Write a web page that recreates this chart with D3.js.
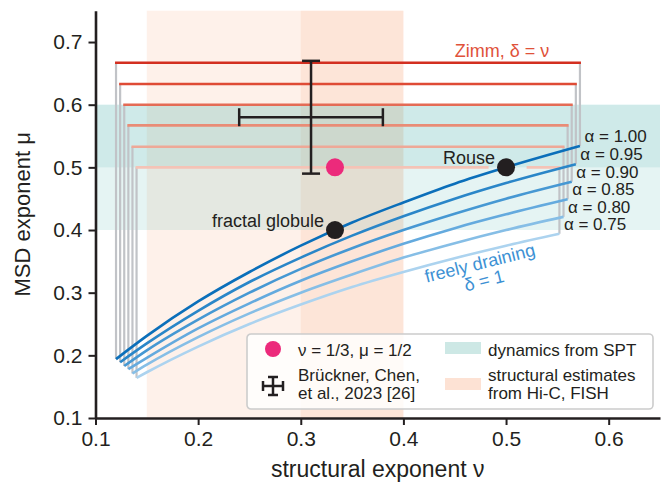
<!DOCTYPE html>
<html>
<head>
<meta charset="UTF-8">
<title>MSD exponent vs structural exponent</title>
<script src="https://d3js.org/d3.v7.min.js"></script>
<style>
    body { margin: 0; background: #fff; }
    text { font-family: "Liberation Sans", Arial, sans-serif; fill: #231f20; }
    .axis path, .axis line { stroke: #231f20; }
    .axis text { font-size: 21px; }
    .note { font-size: 18px; }
    .small { font-size: 17px; }
</style>
</head>
<body>
<script>
// alpha family
const alphas = [1.00, 0.95, 0.90, 0.85, 0.80, 0.75];
const alphaLabels = ["α = 1.00", "α = 0.95", "α = 0.90", "α = 0.85", "α = 0.80", "α = 0.75"];
const nuStart = [0.120, 0.124, 0.128, 0.132, 0.136, 0.140];
const nuEnd = [0.572, 0.568, 0.564, 0.560, 0.556, 0.552];

// Zimm (delta = nu) levels
const zimmMu = [0.667, 0.633, 0.600, 0.567, 0.533, 0.500];
const zimmColors = ["#d32f20", "#df4b35", "#e46b55", "#e98c76", "#eea897", "#f4c3b6"];

const nuGrid = [0.15, 0.20, 0.25, 0.30, 0.35, 0.40, 0.45, 0.50];
const muFreeStart = [0.194, 0.189, 0.183, 0.178, 0.171, 0.164];
const muFreeEnd = [0.534, 0.505, 0.477, 0.449, 0.421, 0.394];
const muFree100 = [0.231, 0.286, 0.333, 0.375, 0.412, 0.444, 0.474, 0.500];
const muFree095 = [0.219, 0.271, 0.317, 0.356, 0.391, 0.422, 0.450, 0.475];
const muFree090 = [0.208, 0.257, 0.300, 0.338, 0.371, 0.400, 0.426, 0.450];
const muFree085 = [0.196, 0.243, 0.283, 0.319, 0.350, 0.378, 0.403, 0.425];
const muFree080 = [0.185, 0.229, 0.267, 0.300, 0.329, 0.356, 0.379, 0.400];
const muFree075 = [0.173, 0.214, 0.250, 0.281, 0.309, 0.333, 0.355, 0.375];
const muFree = [muFree100, muFree095, muFree090, muFree085, muFree080, muFree075];
const freeColors = ["#0b6fba", "#2a86c8", "#4698d3", "#64aade", "#86bee6", "#acd3ef"];

// shaded ranges
const structRanges = [[0.15, 0.40], [0.30, 0.40]];
const dynRanges = [[0.40, 0.60], [0.50, 0.60]];

// points
const markedPoints = [{nu: 0.5, mu: 0.5, label: "Rouse"}, {nu: 1 / 3, mu: 0.4, label: "fractal globule"}];
const theoryPoint = {nu: 1 / 3, mu: 0.5};
const errCenter = [0.31, 0.58];
const errNu = 0.07;
const errMu = 0.09;
const rouseGap = [0.482, 0.521];

const xTicks = [0.1, 0.2, 0.3, 0.4, 0.5, 0.6];
const yTicks = [0.1, 0.2, 0.3, 0.4, 0.5, 0.6, 0.7];

const width = 672;
const height = 483;
const marginLeft = 95.5;
const marginRight = 12;
const marginTop = 10.7;
const marginBottom = 65;

const svg = d3.select('body').append('svg')
    .attr('width', width)
    .attr('height', height);

const x = d3.scaleLinear().domain([0.1, 0.65]).range([marginLeft, width - marginRight]);
const y = d3.scaleLinear().domain([0.1, 0.75]).range([height - marginBottom, marginTop]);

// background bands
svg.selectAll('.struct').data(structRanges).enter().append('rect')
    .attr('x', d => x(d[0])).attr('width', d => x(d[1]) - x(d[0]))
    .attr('y', y(0.75)).attr('height', y(0.1) - y(0.75))
    .attr('fill', '#f8a070').attr('fill-opacity', 0.15);

svg.selectAll('.dyn').data(dynRanges).enter().append('rect')
    .attr('x', x(0.1)).attr('width', x(0.65) - x(0.1))
    .attr('y', d => y(d[1])).attr('height', d => y(d[0]) - y(d[1]))
    .attr('fill', '#5cbab4').attr('fill-opacity', 0.16);

// gray connectors
alphas.forEach((a, i) => {
    svg.append('line')
        .attr('x1', x(nuStart[i])).attr('x2', x(nuStart[i]))
        .attr('y1', y(zimmMu[i])).attr('y2', y(muFreeStart[i]))
        .attr('stroke', '#c1c3c7').attr('stroke-width', 2.2);
    svg.append('line')
        .attr('x1', x(nuEnd[i])).attr('x2', x(nuEnd[i]))
        .attr('y1', y(zimmMu[i])).attr('y2', y(muFreeEnd[i]))
        .attr('stroke', '#c1c3c7').attr('stroke-width', 2.2);
});

// Zimm lines
alphas.forEach((a, i) => {
    let segs = [[nuStart[i], nuEnd[i]]];
    if (i === alphas.length - 1) segs = [[nuStart[i], rouseGap[0]], [rouseGap[1], nuEnd[i]]];
    segs.forEach(s => {
        svg.append('line')
            .attr('x1', x(s[0]) - 1).attr('x2', x(s[1]) + 1)
            .attr('y1', y(zimmMu[i])).attr('y2', y(zimmMu[i]))
            .attr('stroke', zimmColors[i]).attr('stroke-width', 2.6);
    });
});

// freely draining curves
const line = d3.line().x(d => x(d[0])).y(d => y(d[1])).curve(d3.curveMonotoneX);
alphas.forEach((a, i) => {
    const pts = [[nuStart[i], muFreeStart[i]]]
        .concat(nuGrid.map((n, j) => [n, muFree[i][j]]))
        .concat([[nuEnd[i], muFreeEnd[i]]]);
    svg.append('path')
        .attr('d', line(pts))
        .attr('fill', 'none')
        .attr('stroke', freeColors[i])
        .attr('stroke-width', 2.6);
    svg.append('text')
        .attr('class', 'small')
        .attr('x', x(nuEnd[i]) + 4.5)
        .attr('y', y(muFreeEnd[i]) - 4)
        .text(alphaLabels[i]);
});

// error bar
const eb = svg.append('g').attr('stroke', '#231f20').attr('stroke-width', 2.5);
eb.append('line').attr('x1', x(errCenter[0] - errNu)).attr('x2', x(errCenter[0] + errNu))
    .attr('y1', y(errCenter[1])).attr('y2', y(errCenter[1]));
eb.append('line').attr('x1', x(errCenter[0])).attr('x2', x(errCenter[0]))
    .attr('y1', y(errCenter[1] - errMu)).attr('y2', y(errCenter[1] + errMu));
[errCenter[0] - errNu, errCenter[0] + errNu].forEach(v => {
    eb.append('line').attr('x1', x(v)).attr('x2', x(v))
        .attr('y1', y(errCenter[1]) - 9).attr('y2', y(errCenter[1]) + 9);
});
[errCenter[1] - errMu, errCenter[1] + errMu].forEach(v => {
    eb.append('line').attr('x1', x(errCenter[0]) - 9).attr('x2', x(errCenter[0]) + 9)
        .attr('y1', y(v)).attr('y2', y(v));
});

// points
svg.append('circle').attr('cx', x(theoryPoint.nu)).attr('cy', y(theoryPoint.mu))
    .attr('r', 9).attr('fill', '#ec2a7b');
svg.selectAll('.mark').data(markedPoints).enter().append('circle')
    .attr('cx', d => x(d.nu)).attr('cy', d => y(d.mu))
    .attr('r', 9).attr('fill', '#231f20');
svg.selectAll('.markLabel').data(markedPoints).enter().append('text')
    .attr('class', 'note')
    .attr('text-anchor', 'end')
    .attr('x', d => x(d.nu) - 11)
    .attr('y', d => y(d.mu) - 3.5)
    .text(d => d.label);

// annotations
svg.append('text').attr('class', 'note')
    .attr('x', 502).attr('y', 56.5)
    .attr('text-anchor', 'middle')
    .style('fill', '#e0523a')
    .text('Zimm, δ = ν');

const fd = svg.append('g').attr('transform', 'translate(482,272) rotate(-14)');
fd.append('text').attr('class', 'note').attr('text-anchor', 'middle').attr('y', -3)
    .style('fill', '#3d91d4').text('freely draining');
fd.append('text').attr('class', 'note').attr('text-anchor', 'middle').attr('y', 15)
    .style('fill', '#3d91d4').text('δ = 1');

// axes
const xAxis = svg.append('g').attr('class', 'axis')
    .attr('transform', `translate(0, ${y(0.1)})`)
    .call(d3.axisBottom(x).tickValues(xTicks).tickFormat(d3.format('.1f')).tickSize(7).tickSizeOuter(0).tickPadding(6));
const yAxis = svg.append('g').attr('class', 'axis')
    .attr('transform', `translate(${x(0.1)}, 0)`)
    .call(d3.axisLeft(y).tickValues(yTicks).tickFormat(d3.format('.1f')).tickSize(7).tickSizeOuter(0).tickPadding(6));
svg.selectAll('.axis path').attr('stroke-width', 2.6);
svg.selectAll('.axis line').attr('stroke-width', 2);
svg.selectAll('.axis text').attr('fill', '#231f20');

svg.append('text')
    .attr('x', (x(0.1) + x(0.65)) / 2).attr('y', 477)
    .attr('text-anchor', 'middle')
    .style('font-size', '23px')
    .text('structural exponent ν');
svg.append('text')
    .attr('transform', `translate(30, ${(y(0.1) + y(0.75)) / 2}) rotate(-90)`)
    .attr('text-anchor', 'middle')
    .style('font-size', '22px')
    .text('MSD exponent μ');

// legend
const lg = svg.append('g').attr('transform', 'translate(247, 334)');
lg.append('rect').attr('width', 406).attr('height', 75).attr('rx', 4)
    .attr('fill', '#fff').attr('fill-opacity', 0.82)
    .attr('stroke', '#cccccc').attr('stroke-width', 1.6);
lg.append('circle').attr('cx', 26).attr('cy', 15).attr('r', 8).attr('fill', '#ec2a7b');
const li = lg.append('g').attr('stroke', '#231f20').attr('stroke-width', 2.5);
li.append('line').attr('x1', 16).attr('x2', 36).attr('y1', 52).attr('y2', 52);
li.append('line').attr('x1', 26).attr('x2', 26).attr('y1', 43).attr('y2', 61);
li.append('line').attr('x1', 16).attr('x2', 16).attr('y1', 47).attr('y2', 57);
li.append('line').attr('x1', 36).attr('x2', 36).attr('y1', 47).attr('y2', 57);
li.append('line').attr('x1', 21).attr('x2', 31).attr('y1', 43).attr('y2', 43);
li.append('line').attr('x1', 21).attr('x2', 31).attr('y1', 61).attr('y2', 61);
lg.append('rect').attr('x', 198).attr('y', 8).attr('width', 36).attr('height', 12)
    .attr('fill', '#cde8e5');
lg.append('rect').attr('x', 198).attr('y', 44).attr('width', 36).attr('height', 12)
    .attr('fill', '#fde2d4');
const legendTexts = [
    [51, 21.5, 'ν = 1/3, μ = 1/2'],
    [51, 46.5, 'Brückner, Chen,'],
    [51, 64.5, 'et al., 2023 [26]'],
    [241, 21.5, 'dynamics from SPT'],
    [241, 46.5, 'structural estimates'],
    [241, 64.5, 'from Hi-C, FISH']
];
lg.selectAll('.lt').data(legendTexts).enter().append('text')
    .attr('class', 'small')
    .attr('x', d => d[0]).attr('y', d => d[1])
    .text(d => d[2]);
</script>
</body>
</html>
